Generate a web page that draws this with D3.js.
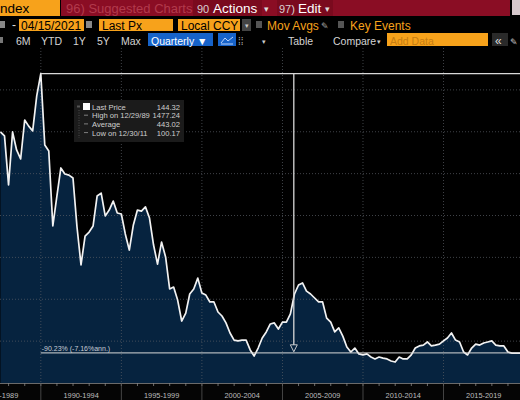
<!DOCTYPE html>
<meta charset="utf-8">
<style>

body {
  margin: 0;
  background: #000;
}

svg {
  display: block;
  font-family: "Liberation Sans", Arial, sans-serif;
}

.grid line {
  stroke: #5a5f66;
  stroke-width: 0.7px;
  stroke-dasharray: 1,2;
}

.price-area {
  fill: #06233f;
}

.price-line {
  fill: none;
  stroke: #f2f2f2;
  stroke-width: 1.7px;
  stroke-linejoin: round;
}

.ref-line {
  stroke: #d8d8d8;
  stroke-width: 1.3px;
}

.axis-label {
  font-size: 7.4px;
  fill: #bdbdbd;
  text-anchor: middle;
}

.legend text {
  font-size: 7.6px;
  fill: #cfcfcf;
}

</style>
<svg width="520" height="400"></svg>
<script src="https://cdn.jsdelivr.net/npm/d3@7/dist/d3.min.js"></script>
<script>

// quarterly closes, first quarter ends 1987-06-30
var firstQuarterYear = 1987, firstQuarterMonth = 6;
var prices = [
  1199, 1180, 946, 1199, 1113, 1070, 1256, 1227, 1204, 1371,
  1477.24, 1137, 1108, 750, 893, 1027, 998, 993, 979, 745,
  564, 702, 721, 750, 893, 907, 798, 826, 869, 812,
  807, 712, 635, 755, 826, 821, 841, 788, 659, 568,
  673, 602, 449, 458, 396, 296, 334, 425, 449, 501,
  430, 420, 387, 387, 339, 320, 287, 239, 205, 201,
  205, 205, 158, 129, 167, 215, 244, 282, 287, 258,
  291, 291, 330, 425, 468, 478, 439, 425, 406, 387,
  387, 310, 291, 244, 263, 224, 172, 148, 167, 139,
  134, 139, 124, 115, 124, 119, 115, 105, 100.17, 124,
  115, 115, 134, 167, 177, 181, 196, 177, 181, 186,
  201, 215, 239, 205, 196, 148, 134, 167, 186, 181,
  191, 196, 201, 181, 177, 177, 148, 143, 143, 143,
  145, 142, 140, 146, 144, 145
];
var lastDate = new Date(2021, 3, 15), lastPrice = 144.32;
var highDate = new Date(1989, 11, 29), highPrice = 1477.24;
var markerDate = new Date(2005, 8, 15);

var gridValues = [200, 400, 600, 800, 1000, 1200, 1400];
var periodStarts = [1985, 1990, 1995, 2000, 2005, 2010, 2015];
var periodLabels = ["1985-1989", "1990-1994", "1995-1999", "2000-2004", "2005-2009", "2010-2014", "2015-2019"];
var changeLabel = "-90.23% (-7.16%ann.)";

var legendNames = ["Last Price", "High on 12/29/89", "Average", "Low on 12/30/11"];
var legendValues = ["144.32", "1477.24", "443.02", "100.17"];

var svg = d3.select("svg"),
    width = +svg.attr("width"),
    height = +svg.attr("height"),
    plotTop = 48,
    plotBottom = 383;

svg.append("rect").attr("width", width).attr("height", height).attr("fill", "#000");

var data = prices.map(function(v, i) {
  return {date: new Date(firstQuarterYear, firstQuarterMonth + 3 * i, 0), value: v};
});
data.push({date: lastDate, value: lastPrice});

var x = d3.scaleTime()
    .domain([new Date(1987, 5, 20), new Date(2019, 9, 1)])
    .range([0, width]);

var y = d3.scaleLinear()
    .domain([0, 1600])
    .range([plotBottom, plotTop]);

svg.append("clipPath").attr("id", "plot-clip")
  .append("rect")
    .attr("x", 0).attr("y", plotTop)
    .attr("width", width).attr("height", plotBottom - plotTop);

var plot = svg.append("g").attr("clip-path", "url(#plot-clip)");

plot.append("path")
    .datum(data)
    .attr("class", "price-area")
    .attr("d", d3.area()
        .x(function(d) { return x(d.date); })
        .y0(plotBottom)
        .y1(function(d) { return y(d.value); }));

// grid on top of the fill
var grid = plot.append("g").attr("class", "grid");

grid.selectAll(".h")
    .data(gridValues)
  .enter().append("line")
    .attr("x1", 0).attr("x2", width)
    .attr("y1", function(d) { return y(d); })
    .attr("y2", function(d) { return y(d); });

grid.selectAll(".v")
    .data(periodStarts.slice(1))
  .enter().append("line")
    .attr("x1", function(d) { return x(new Date(d, 0, 1)); })
    .attr("x2", function(d) { return x(new Date(d, 0, 1)); })
    .attr("y1", plotTop).attr("y2", plotBottom);

plot.append("path")
    .datum(data)
    .attr("class", "price-line")
    .attr("d", d3.line()
        .x(function(d) { return x(d.date); })
        .y(function(d) { return y(d.value); }));

// high and last-price reference lines
plot.append("line")
    .attr("class", "ref-line")
    .attr("x1", x(highDate)).attr("x2", width)
    .attr("y1", y(highPrice)).attr("y2", y(highPrice));

plot.append("line")
    .attr("class", "ref-line")
    .attr("stroke-opacity", 0.8)
    .attr("x1", x(highDate)).attr("x2", width)
    .attr("y1", y(lastPrice)).attr("y2", y(lastPrice));

var mx = x(markerDate);
plot.append("line")
    .attr("class", "ref-line")
    .attr("stroke-width", 1)
    .attr("x1", mx).attr("x2", mx)
    .attr("y1", y(highPrice)).attr("y2", y(lastPrice) - 2);

plot.append("path")
    .attr("d", "M" + (mx - 3.5) + "," + (y(lastPrice) - 8) + "h7l-3.5,7z")
    .attr("fill", "#06233f")
    .attr("stroke", "#d8d8d8")
    .attr("stroke-width", 0.9);

plot.append("text")
    .attr("x", x(highDate) + 1)
    .attr("y", y(lastPrice) - 2)
    .attr("font-size", 7)
    .attr("fill", "#c9ced6")
    .text(changeLabel);

// legend box
var legend = svg.append("g").attr("class", "legend").attr("transform", "translate(74,100)");

legend.append("rect")
    .attr("width", 110).attr("height", 42)
    .attr("fill", "#1b1b1b");

var legendRow = legend.selectAll(".row")
    .data(legendNames)
  .enter().append("g")
    .attr("transform", function(d, i) { return "translate(0," + (9.5 + i * 8.7) + ")"; });

legendRow.append("text")
    .attr("x", 18)
    .text(function(d) { return d; });

legendRow.append("text")
    .attr("x", 106)
    .attr("text-anchor", "end")
    .text(function(d, i) { return legendValues[i]; });

legend.append("rect").attr("x", 9).attr("y", 3).attr("width", 7).attr("height", 7).attr("fill", "#fff");
legend.append("rect").attr("x", 3).attr("y", 5.5).attr("width", 3).attr("height", 2).attr("fill", "#555");
legend.append("line")
    .attr("x1", 5).attr("x2", 5).attr("y1", 10).attr("y2", 38)
    .attr("stroke", "#666").attr("stroke-dasharray", "1,1.5").attr("stroke-width", 0.7);
legend.selectAll(".icon")
    .data([1, 2, 3])
  .enter().append("line")
    .attr("x1", 10).attr("x2", 14)
    .attr("y1", function(d) { return 6.5 + d * 8.7; })
    .attr("y2", function(d) { return 6.5 + d * 8.7; })
    .attr("stroke", "#999").attr("stroke-width", 0.8);

// bottom time axis
var axis = svg.append("g");

axis.append("rect")
    .attr("y", plotBottom).attr("width", width).attr("height", height - plotBottom)
    .attr("fill", "#050505");

axis.append("line")
    .attr("x1", 0).attr("x2", width)
    .attr("y1", plotBottom + 0.5).attr("y2", plotBottom + 0.5)
    .attr("stroke", "#6a6a6a").attr("stroke-width", 1);

axis.selectAll(".minor")
    .data(x.ticks(d3.timeYear.every(1)))
  .enter().append("line")
    .attr("x1", function(d) { return x(d); })
    .attr("x2", function(d) { return x(d); })
    .attr("y1", plotBottom).attr("y2", plotBottom + 3)
    .attr("stroke", "#888").attr("stroke-width", 0.8);

axis.selectAll(".major")
    .data(periodStarts.slice(1))
  .enter().append("line")
    .attr("x1", function(d) { return x(new Date(d, 0, 1)); })
    .attr("x2", function(d) { return x(new Date(d, 0, 1)); })
    .attr("y1", plotBottom).attr("y2", height)
    .attr("stroke", "#555").attr("stroke-width", 0.8);

axis.selectAll(".axis-label")
    .data(periodLabels)
  .enter().append("text")
    .attr("class", "axis-label")
    .attr("x", function(d, i) {
      return (x(new Date(periodStarts[i], 0, 1)) + x(new Date(periodStarts[i] + 5, 0, 1))) / 2;
    })
    .attr("y", 397.5)
    .text(function(d) { return d; });

// toolbar
var bar = svg.append("g");

function box(x0, y0, w, h, fill) {
  return bar.append("rect").attr("x", x0).attr("y", y0).attr("width", w).attr("height", h).attr("fill", fill);
}
function label(x0, y0, txt, size, fill, weight) {
  return bar.append("text").attr("x", x0).attr("y", y0)
      .attr("font-size", size).attr("fill", fill)
      .attr("font-weight", weight || "normal").text(txt);
}

var orange = "#f7a21b", red = "#8a0d24";

// row 1
box(0, 0, 60, 16, orange);
label(0, 13, "ndex", 13.5, "#000");
box(61, 0, 449, 16, red);
box(193, 0, 69, 16, "#7a0a1e");
box(277, 0, 56, 16, "#7a0a1e");
label(66, 13, "96) Suggested Charts", 13, "#b23a4c");
label(197, 13, "90", 11, "#d9d0d2");
label(213, 13, "Actions", 13.5, "#fff");
label(264, 12, "▾", 9, "#ddd");
label(279, 13, "97)", 11, "#d9d0d2");
label(298, 13, "Edit", 13.5, "#fff");
label(325, 12, "▾", 9, "#ddd");
box(512, 0, 8, 15, "#d6c8cc");

// row 2
box(0, 21, 5, 7, "#888");
label(12, 29, "-", 12, "#ddd");
box(19, 19, 65, 12, orange);
label(21, 29.5, "04/15/2021", 12, "#000");
box(86, 21, 6, 7, "#888");
box(99, 19, 74, 12, orange);
label(102, 29.5, "Last Px", 12, "#000");
box(178, 19, 62, 12, orange);
label(181, 29.5, "Local CCY", 12, "#000");
box(242, 19, 9, 12, "#444");
label(244.5, 28, "▾", 7, "#ccc");
box(256, 21, 6, 7, "#555");
label(267, 29.5, "Mov Avgs", 12, orange);
label(321, 29, "✎", 9, "#aaa");
box(338, 21, 6, 7, "#555");
label(350, 29.5, "Key Events", 12, orange);

// row 3
box(0, 37, 3, 6, "#777");
label(16, 45, "6M", 10.5, "#d4d4d4");
label(41, 45, "YTD", 10.5, "#d4d4d4");
label(73, 45, "1Y", 10.5, "#d4d4d4");
label(97, 45, "5Y", 10.5, "#d4d4d4");
label(121, 45, "Max", 10.5, "#d4d4d4");
box(148, 33, 65, 13, "#1763c9");
label(151, 44.5, "Quarterly ▼", 10.5, "#fff");
box(218, 33, 18, 13, "#1763c9");
bar.append("path")
    .attr("d", "M221,43L225,38L228,41L233,37M221,44H233")
    .attr("fill", "none").attr("stroke", "#cfe0ff").attr("stroke-width", 0.9);
label(238, 45, "⁞⁞", 10, "#aaa");
label(262, 44, "▾", 7, "#ccc");
label(288, 45, "Table", 10.5, "#d4d4d4");
label(333, 45, "Compare", 10.5, "#d4d4d4");
label(377, 44, "▾", 7, "#ccc");
box(387, 33, 101, 13, orange);
label(390, 44.5, "Add Data", 10.5, "#c67d12");
box(492, 33, 16, 13, "#2a2a2a");
label(495, 44.5, "«", 12, "#ddd");
label(510, 44.5, "✎", 9, "#ccc");

</script>
